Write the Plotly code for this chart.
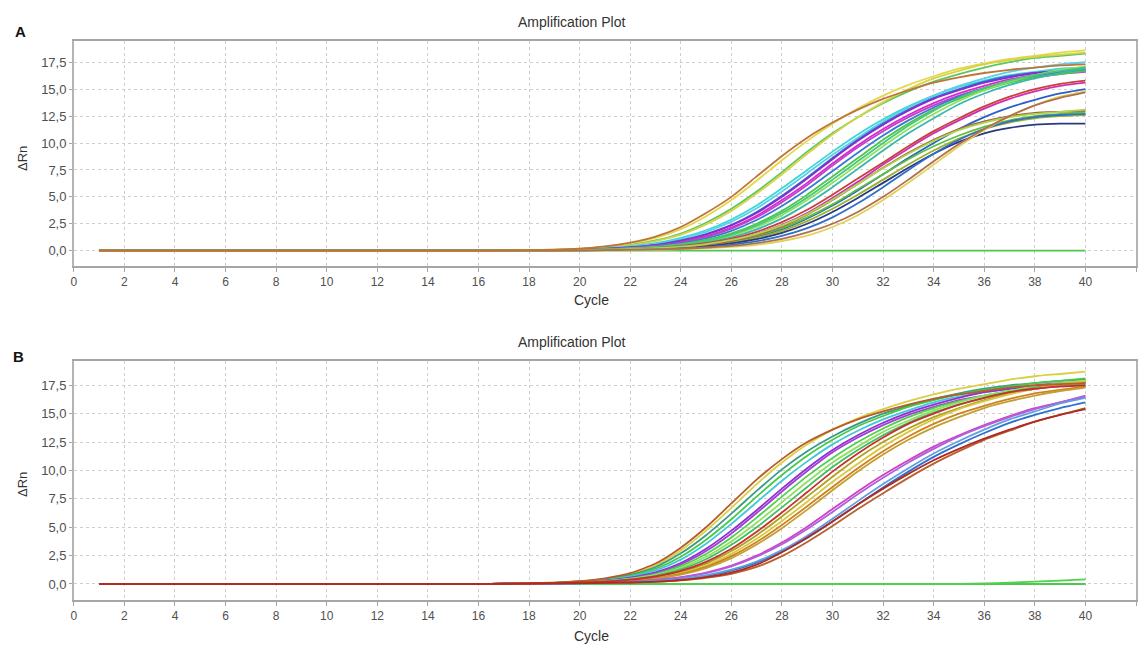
import plotly.graph_objects as go

# ---------------- data ----------------
CYCLES = list(range(1, 41))
BASELINE = [0.0] * 16  # cycles 1..16
X_TICKS = list(range(0, 43, 2))
Y_TICKS = [0.0, 2.5, 5.0, 7.5, 10.0, 12.5, 15.0, 17.5]

# Panel A curves, values for cycles 17..40
a_brown1 = [0.02,0.05,0.10,0.20,0.40,0.75,1.30,2.20,3.50,5.00,6.90,8.80,10.5,11.9,13.1,14.1,14.9,15.6,16.1,16.5,16.8,17.0,17.2,17.3]
a_yellow1 = [0.02,0.05,0.10,0.20,0.38,0.70,1.20,2.00,3.20,4.70,6.50,8.40,10.2,11.8,13.2,14.4,15.4,16.2,16.9,17.4,17.8,18.1,18.4,18.6]
a_green1 = [0.02,0.04,0.08,0.15,0.30,0.55,0.95,1.60,2.60,3.90,5.50,7.30,9.20,10.9,12.4,13.7,14.8,15.7,16.4,17.0,17.5,17.9,18.1,18.3]
a_yellow2 = [0.02,0.04,0.08,0.15,0.28,0.50,0.90,1.50,2.45,3.70,5.30,7.10,9.00,10.8,12.4,13.8,15.0,16.0,16.7,17.3,17.7,18.0,18.2,18.4]
a_cyan1 = [0.01,0.03,0.06,0.12,0.22,0.40,0.70,1.20,1.90,2.90,4.20,5.80,7.50,9.20,10.8,12.2,13.4,14.4,15.2,15.8,16.3,16.6,16.9,17.0]
a_cyan2 = [0.01,0.03,0.06,0.11,0.20,0.36,0.63,1.08,1.75,2.70,3.95,5.50,7.20,8.90,10.5,12.0,13.3,14.4,15.3,16.0,16.6,17.0,17.3,17.5]
a_blue1 = [0.01,0.03,0.05,0.10,0.18,0.32,0.55,0.95,1.55,2.40,3.60,5.10,6.80,8.60,10.3,11.8,13.1,14.2,15.0,15.7,16.2,16.5,16.7,16.8]
a_purple1 = [0.01,0.02,0.05,0.09,0.17,0.30,0.52,0.90,1.50,2.35,3.50,5.00,6.70,8.50,10.2,11.7,13.0,14.1,14.9,15.6,16.1,16.5,16.7,16.9]
a_magenta1 = [0.01,0.02,0.04,0.08,0.15,0.27,0.47,0.80,1.35,2.15,3.25,4.70,6.30,8.10,9.80,11.3,12.6,13.7,14.6,15.3,15.9,16.3,16.6,16.8]
a_magenta2 = [0.01,0.02,0.04,0.08,0.14,0.25,0.44,0.76,1.28,2.05,3.10,4.50,6.10,7.90,9.60,11.1,12.4,13.5,14.4,15.1,15.7,16.1,16.4,16.6]
a_blue2 = [0.01,0.02,0.04,0.07,0.13,0.23,0.40,0.68,1.15,1.85,2.85,4.15,5.70,7.40,9.10,10.7,12.1,13.3,14.3,15.1,15.7,16.2,16.5,16.7]
a_green2 = [0.01,0.02,0.04,0.07,0.12,0.21,0.36,0.60,1.00,1.60,2.50,3.70,5.20,6.90,8.60,10.3,11.8,13.1,14.1,14.9,15.6,16.1,16.4,16.7]
a_lgreen1 = [0.01,0.02,0.03,0.06,0.10,0.18,0.30,0.50,0.85,1.40,2.20,3.30,4.70,6.30,8.00,9.70,11.3,12.7,13.9,14.9,15.7,16.3,16.8,17.1]
a_green3 = [0.01,0.02,0.03,0.06,0.11,0.19,0.32,0.55,0.92,1.50,2.35,3.50,4.95,6.60,8.30,10.0,11.6,13.0,14.2,15.1,15.8,16.3,16.7,17.0]
a_teal1 = [0.01,0.02,0.03,0.05,0.09,0.16,0.27,0.45,0.76,1.25,1.98,3.00,4.35,5.90,7.60,9.30,10.9,12.3,13.6,14.6,15.4,16.0,16.5,16.9]
a_magenta3 = [0.01,0.02,0.03,0.05,0.08,0.13,0.22,0.37,0.60,0.98,1.55,2.40,3.50,4.90,6.40,8.00,9.50,10.9,12.1,13.2,14.1,14.8,15.3,15.6]
a_red1 = [0.01,0.02,0.03,0.05,0.09,0.15,0.25,0.42,0.70,1.12,1.75,2.65,3.80,5.20,6.70,8.20,9.70,11.1,12.3,13.4,14.3,15.0,15.5,15.8]
a_blue3 = [0.01,0.01,0.02,0.04,0.07,0.11,0.18,0.30,0.50,0.80,1.30,2.00,3.00,4.20,5.60,7.10,8.60,10.0,11.3,12.4,13.3,14.0,14.6,15.0]
a_green4 = [0.01,0.02,0.03,0.05,0.08,0.13,0.21,0.34,0.55,0.90,1.40,2.10,3.10,4.30,5.70,7.10,8.50,9.70,10.7,11.5,12.1,12.5,12.7,12.9]
a_olive1 = [0.01,0.02,0.03,0.04,0.07,0.11,0.18,0.30,0.48,0.78,1.22,1.85,2.75,3.90,5.20,6.60,8.00,9.30,10.4,11.3,11.9,12.3,12.5,12.6]
a_navy1 = [0.01,0.01,0.02,0.04,0.06,0.10,0.16,0.26,0.42,0.68,1.07,1.65,2.50,3.60,4.90,6.30,7.70,9.00,10.1,10.9,11.4,11.7,11.8,11.8]
a_brown2 = [0.01,0.02,0.03,0.05,0.08,0.12,0.20,0.33,0.55,0.90,1.45,2.25,3.35,4.70,6.20,7.70,9.10,10.3,11.3,12.0,12.5,12.8,12.9,13.0]
a_lgreen2 = [0.01,0.02,0.03,0.05,0.09,0.14,0.23,0.38,0.62,1.00,1.55,2.35,3.40,4.75,6.20,7.65,9.00,10.2,11.2,11.9,12.4,12.7,12.9,13.1]
a_blue4 = [0.01,0.01,0.02,0.03,0.05,0.08,0.13,0.21,0.34,0.55,0.88,1.38,2.10,3.10,4.40,5.90,7.50,9.00,10.3,11.3,12.0,12.4,12.6,12.7]
a_brown3 = [0.00,0.01,0.02,0.03,0.05,0.08,0.12,0.18,0.28,0.44,0.70,1.10,1.70,2.50,3.60,5.00,6.60,8.30,9.90,11.3,12.5,13.5,14.2,14.7]
a_yellow3 = [0.00,0.01,0.01,0.02,0.04,0.06,0.09,0.14,0.22,0.35,0.55,0.90,1.40,2.20,3.30,4.70,6.30,8.00,9.70,11.2,12.5,13.5,14.3,14.8]
a_flat = [0.0,0.0,0.0,0.0,0.0,0.0,0.0,0.0,0.0,0.0,0.0,0.0,0.0,0.0,0.0,0.0,0.0,0.0,0.0,0.0,0.0,0.0,0.0,0.0]

# Panel B curves, values for cycles 17..40
b_brown1 = [0.03,0.06,0.12,0.25,0.50,0.95,1.80,3.20,5.00,7.10,9.20,11.0,12.5,13.6,14.5,15.2,15.8,16.3,16.7,17.0,17.3,17.5,17.6,17.7]
b_yellow1 = [0.03,0.06,0.12,0.24,0.46,0.88,1.65,2.95,4.70,6.70,8.80,10.7,12.3,13.6,14.6,15.4,16.1,16.7,17.2,17.6,18.0,18.3,18.5,18.7]
b_teal1 = [0.02,0.05,0.10,0.21,0.42,0.80,1.50,2.70,4.30,6.20,8.20,10.1,11.7,13.0,14.1,15.0,15.7,16.3,16.8,17.2,17.5,17.7,17.9,18.0]
b_green1 = [0.02,0.05,0.10,0.20,0.38,0.72,1.35,2.40,3.90,5.70,7.70,9.60,11.3,12.7,13.9,14.8,15.6,16.2,16.7,17.1,17.4,17.7,17.9,18.1]
b_cyan1 = [0.02,0.04,0.09,0.18,0.34,0.65,1.20,2.15,3.55,5.30,7.20,9.10,10.8,12.3,13.5,14.5,15.3,16.0,16.5,16.9,17.2,17.4,17.6,17.7]
b_purple1 = [0.02,0.04,0.08,0.16,0.30,0.56,1.02,1.85,3.10,4.70,6.50,8.40,10.2,11.8,13.1,14.2,15.1,15.8,16.4,16.9,17.2,17.5,17.7,17.8]
b_purple2 = [0.02,0.04,0.08,0.15,0.28,0.52,0.95,1.72,2.90,4.45,6.25,8.15,9.95,11.6,12.9,14.0,14.9,15.6,16.2,16.6,16.9,17.2,17.4,17.5]
b_green2 = [0.02,0.04,0.07,0.14,0.26,0.48,0.88,1.58,2.65,4.10,5.85,7.70,9.50,11.1,12.5,13.7,14.7,15.5,16.1,16.6,17.0,17.3,17.5,17.6]
b_lgreen1 = [0.02,0.03,0.07,0.13,0.24,0.44,0.80,1.42,2.40,3.75,5.40,7.20,9.00,10.7,12.1,13.4,14.4,15.3,16.0,16.6,17.0,17.4,17.7,17.9]
b_green3 = [0.01,0.03,0.06,0.12,0.22,0.40,0.72,1.28,2.18,3.45,5.00,6.75,8.55,10.3,11.8,13.1,14.2,15.1,15.8,16.4,16.9,17.3,17.6,17.8]
b_red2 = [0.03,0.05,0.08,0.13,0.22,0.38,0.66,1.15,1.95,3.10,4.60,6.30,8.10,9.90,11.5,12.9,14.1,15.0,15.8,16.4,16.9,17.2,17.4,17.5]
b_olive1 = [0.01,0.03,0.05,0.10,0.19,0.34,0.60,1.06,1.80,2.90,4.30,5.95,7.70,9.45,11.1,12.5,13.7,14.7,15.5,16.2,16.8,17.2,17.5,17.8]
b_yellow2 = [0.01,0.03,0.05,0.09,0.17,0.31,0.55,0.96,1.63,2.65,3.98,5.55,7.25,9.00,10.6,12.1,13.4,14.5,15.4,16.1,16.7,17.2,17.6,17.9]
b_orange1 = [0.01,0.02,0.05,0.09,0.16,0.29,0.51,0.88,1.50,2.45,3.70,5.20,6.85,8.55,10.2,11.7,13.0,14.1,15.0,15.7,16.3,16.8,17.1,17.4]
b_gold1 = [0.01,0.02,0.04,0.08,0.15,0.27,0.47,0.82,1.40,2.28,3.48,4.92,6.55,8.25,9.90,11.4,12.7,13.8,14.7,15.5,16.1,16.6,17.0,17.3]
b_magenta1 = [0.01,0.02,0.04,0.07,0.12,0.21,0.36,0.60,1.00,1.62,2.50,3.65,5.05,6.60,8.15,9.60,10.9,12.1,13.1,14.0,14.8,15.5,16.0,16.5]
b_purple3 = [0.01,0.02,0.04,0.07,0.12,0.20,0.34,0.57,0.95,1.55,2.40,3.50,4.85,6.35,7.90,9.35,10.7,11.9,13.0,13.9,14.7,15.4,16.0,16.6]
b_blue1 = [0.01,0.01,0.03,0.05,0.09,0.15,0.26,0.43,0.72,1.18,1.88,2.85,4.05,5.50,7.00,8.50,9.90,11.2,12.3,13.3,14.2,14.9,15.5,16.0]
b_lblue1 = [0.01,0.01,0.03,0.05,0.09,0.16,0.28,0.46,0.77,1.26,1.98,2.98,4.25,5.75,7.30,8.80,10.2,11.5,12.6,13.6,14.5,15.2,15.9,16.4]
b_red1 = [0.02,0.04,0.06,0.08,0.10,0.13,0.20,0.35,0.60,1.00,1.70,2.80,4.10,5.50,7.00,8.40,9.70,10.9,11.9,12.8,13.6,14.3,14.9,15.4]
b_orange2 = [0.02,0.03,0.05,0.07,0.10,0.13,0.19,0.32,0.54,0.90,1.50,2.45,3.70,5.10,6.60,8.00,9.35,10.6,11.7,12.7,13.5,14.3,14.9,15.5]
b_flat1 = [0.0,0.0,0.0,0.0,0.0,0.0,0.0,0.0,0.0,0.0,0.0,0.0,0.0,0.0,0.0,0.0,0.0,0.0,0.0,0.0,0.0,0.0,0.0,0.0]
b_flat2 = [0.0,0.0,0.0,0.0,0.0,0.0,0.0,0.0,0.0,0.0,0.0,0.0,0.0,0.0,0.0,0.0,0.0,0.0,0.0,0.05,0.12,0.2,0.3,0.4]

# drawing order: flat (no amplification) wells first, brown/red wells last (on top)
PANEL_A = [a_flat, a_yellow1, a_green1, a_yellow2, a_cyan1, a_cyan2, a_blue1, a_purple1,
           a_magenta1, a_magenta2, a_blue2, a_green2, a_lgreen1, a_green3, a_teal1, a_magenta3,
           a_red1, a_blue3, a_green4, a_olive1, a_navy1, a_brown2, a_lgreen2, a_blue4,
           a_yellow3, a_brown3, a_brown1]
PANEL_B = [b_flat1, b_flat2, b_yellow1, b_teal1, b_green1, b_cyan1, b_purple1, b_purple2, b_green2,
           b_lgreen1, b_green3, b_olive1, b_yellow2, b_orange1, b_gold1, b_magenta1,
           b_purple3, b_blue1, b_lblue1, b_orange2, b_brown1, b_red2, b_red1]

# ---------------- styles ----------------
COLORS_A = ["#4cc84c", "#e2d84a", "#5cc85c", "#d6d24a", "#3fd6d6", "#5ad0e8", "#2f6fd0", "#8a2ad0",
            "#d62ad0", "#c040c8", "#3a78d8", "#4cc84c", "#8ee060", "#46c878", "#38b8a8", "#d030b0",
            "#c84040", "#2a60c8", "#5cc040", "#9cb030", "#2a3a80", "#b06040", "#a8d850", "#3070c8",
            "#e0d060", "#b0704a", "#c0743a"]
COLORS_B = ["#4cc84c", "#50d050", "#d8d040", "#3a9a8a", "#48c848", "#40c8d8", "#9030d0", "#a040d0",
            "#50d050", "#90e060", "#3cc060", "#b0a020", "#d8c840", "#d08020", "#c0a030", "#d040c8",
            "#b060d8", "#2f6fd0", "#60a0e0", "#b86030", "#b85a2a", "#c83030", "#b02a20"]

FONT = "Liberation Sans, Arial, sans-serif"
W, H = 1142, 647
X_DOM = [71 / W, 1136 / W]
DOM_A = [(H - 266) / H, (H - 40.7) / H]
DOM_B = [(H - 600) / H, (H - 360.7) / H]

fig = go.Figure()

def add_panel(curves, colors, xa, ya):
    for vals, col in zip(curves, colors):
        fig.add_trace(go.Scatter(
            x=CYCLES, y=BASELINE + vals, mode="lines",
            line=dict(color=col, width=1.8, shape="spline", smoothing=0.6),
            xaxis=xa, yaxis=ya, showlegend=False, hoverinfo="skip"))

add_panel(PANEL_A, COLORS_A, "x", "y")
add_panel(PANEL_B, COLORS_B, "x2", "y2")

def xaxis(anchor):
    return dict(domain=X_DOM, anchor=anchor, range=[0, 42], tickmode="array", tickvals=X_TICKS,
                showgrid=True, gridcolor="#cfcfcf", griddash="3px,3px", gridwidth=1,
                showline=True, linecolor="#a6a6a6", linewidth=2, mirror=True,
                ticks="outside", ticklen=4, tickcolor="#a6a6a6",
                tickfont=dict(family=FONT, size=12, color="#505050"), zeroline=False)

def yaxis(anchor, dom, rng):
    return dict(domain=dom, anchor=anchor, range=rng, tickmode="array", tickvals=Y_TICKS,
                tickformat=".1f",
                showgrid=True, gridcolor="#cfcfcf", griddash="dot", gridwidth=1,
                showline=True, linecolor="#b4b4b4", linewidth=1.5, mirror=True,
                ticks="outside", ticklen=3, tickcolor="#a6a6a6",
                tickfont=dict(family=FONT, size=13, color="#505050"), zeroline=False)

fig.update_layout(
    width=W, height=H, margin=dict(l=0, r=0, t=0, b=0),
    paper_bgcolor="white", plot_bgcolor="white", separators=", ",
    xaxis=xaxis("y"), yaxis=yaxis("x", DOM_A, [-1.42, 19.5]),
    xaxis2=xaxis("y2"), yaxis2=yaxis("x2", DOM_B, [-1.41, 19.67]),
)

def ann(text, x, y, size, bold=False, angle=0):
    fig.add_annotation(text=("<b>%s</b>" % text) if bold else text,
                       x=x / W, y=(H - y) / H, xref="paper", yref="paper",
                       showarrow=False, textangle=angle, xanchor="center", yanchor="middle",
                       font=dict(family=FONT, size=size, color="#111" if bold else "#333"))

ann("Amplification Plot", 570, 22, 14)
ann("Amplification Plot", 570, 342, 14)
ann("Cycle", 590, 300, 14)
ann("Cycle", 590, 636, 14)
ann("A", 18, 32, 15, bold=True)
ann("B", 16, 356, 15, bold=True)
ann("ΔRn", 19, 158, 13, angle=-90)
ann("ΔRn", 19, 484, 13, angle=-90)

fig.write_html("out.html")
